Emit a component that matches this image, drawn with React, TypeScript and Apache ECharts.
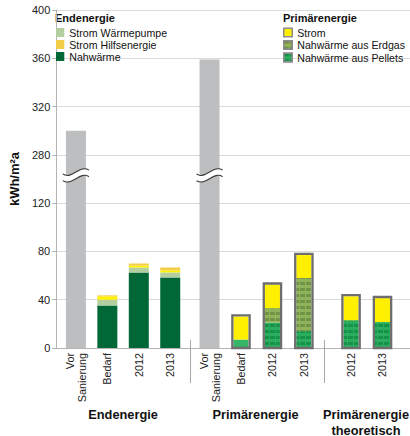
import React, { useEffect, useRef } from 'react';
import * as echarts from 'echarts';

// ---------- data ----------
const categories = ['Vor\nSanierung', 'Bedarf', '2012', '2013', 'Vor\nSanierung', 'Bedarf', '2012', '2013', '2012', '2013'];
const groupTitles = ['Endenergie', 'Primärenergie', 'Primärenergie\ntheoretisch'];
const endLegend = ['Strom Wärmepumpe', 'Strom Hilfsenergie', 'Nahwärme'];
const primLegend = ['Strom', 'Nahwärme aus Erdgas', 'Nahwärme aus Pellets'];

// kWh/m²a (real values)
const vorSanierung = [300, null, null, null, 359, null, null, null, null, null];
const endNahwaerme = [null, 35.2, 62.5, 58.5, null, null, null, null, null, null];
const endStromWP = [null, 4.8, 4.2, 4.1, null, null, null, null, null, null];
const endStromGelb = [null, 2.8, 1.6, 1.7, null, null, null, null, null, null];
const endStromHilfs = [null, 0.8, 1.7, 2.4, null, null, null, null, null, null];
const primPellets = [null, null, null, null, null, 7, 21, 14, 23, 21.5];
const primErdgas = [null, null, null, null, null, 0, 12, 44, 0, 0];
const primStrom = [null, null, null, null, null, 19, 19.5, 19, 19.8, 19.8];

// ---------- layout (slot grid of the category axis) ----------
const SLOT_COUNT = 45;
const slotOf = [2, 6, 10, 14, 19, 23, 27, 31, 37, 41];
const separatorSlots = [17, 34];
const groupCenters = [8.0, 24.85, 38.9];
const breakCats = [0, 4];
const BREAK_MARK_AXIS = 143;

const FONT = '"Liberation Sans", Arial, Helvetica, sans-serif';

// broken axis: real 140..260 is cut out
const toAxis = (v: number | null) => (v == null ? null : v > 200 ? v - 120 : v);
const axisLabel = (v: number) => String(v > 140 ? v + 120 : v);

const expand = (arr: any[]) => {
  const out: any[] = new Array(SLOT_COUNT).fill(null);
  arr.forEach((v, i) => { out[slotOf[i]] = v; });
  return out;
};
const slotLabels = expand(categories).map((c) => (c == null ? '' : c));

const primTotals: [number, number][] = [];
primPellets.forEach((p, i) => {
  if (p != null) primTotals.push([slotOf[i], (p || 0) + (primErdgas[i] || 0) + (primStrom[i] || 0)]);
});

const decal = (color: string) => ({
  symbol: 'rect',
  symbolSize: 1,
  dashArrayX: [5, 1],
  dashArrayY: [2.5, 3],
  rotation: 0,
  color,
});

export default function App() {
  const ref = useRef<HTMLDivElement>(null);
  useEffect(() => {
    if (!ref.current) return;
    const chart = echarts.init(ref.current, null, { renderer: 'svg' });

    const renderDecor = (params: any, api: any) => {
      const origin = api.coord([0, 0]);
      const y0 = origin[1];
      const slotW = api.size([1, 0])[0];
      const xAtSlot = (s: number) => origin[0] + s * slotW;
      const children: any[] = [];
      // axis break marks on the tall bars
      breakCats.forEach((ci) => {
        const p = api.coord([slotOf[ci], BREAK_MARK_AXIS]);
        const cx = p[0];
        const cy = p[1];
        const curve = (dy: number) => ({
          x1: cx - 13, y1: cy + 2 + dy,
          cpx1: cx - 4, cpy1: cy + 8 + dy,
          cpx2: cx + 4, cpy2: cy - 8 + dy,
          x2: cx + 13, y2: cy - 2 + dy,
        });
        children.push({ type: 'bezierCurve', shape: curve(0), style: { stroke: '#fff', lineWidth: 6, fill: null } });
        children.push({ type: 'bezierCurve', shape: curve(-3.3), style: { stroke: '#3a3a3a', lineWidth: 1.1, fill: null } });
        children.push({ type: 'bezierCurve', shape: curve(3.3), style: { stroke: '#3a3a3a', lineWidth: 1.1, fill: null } });
      });
      // group separators
      separatorSlots.forEach((s) => {
        const x = Math.round(xAtSlot(s) - slotW / 2) + 0.5;
        children.push({ type: 'line', shape: { x1: x, y1: y0 - 8, x2: x, y2: y0 + 35 }, style: { stroke: '#a8a8a8', lineWidth: 1 } });
      });
      // group titles
      groupTitles.forEach((t, i) => {
        children.push({
          type: 'text',
          x: xAtSlot(groupCenters[i]),
          y: y0 + 58,
          style: {
            text: t, fill: '#111', fontSize: 12.8, fontWeight: 'bold', fontFamily: FONT,
            align: 'center', verticalAlign: 'top', lineHeight: 16,
          },
        });
      });
      return { type: 'group', children };
    };

    // outline frame around each primary-energy stack
    const renderOutline = (params: any, api: any) => {
      const slot = api.value(0);
      const total = api.value(1);
      const top = api.coord([slot, total]);
      const base = api.coord([slot, 0]);
      const lw = 2.3;
      const w = 15 + lw;
      return {
        type: 'rect',
        shape: { x: top[0] - w / 2, y: top[1] - lw / 2, width: w, height: base[1] - top[1] + lw / 2 },
        style: { fill: 'none', stroke: '#6e6e6e', lineWidth: lw },
      };
    };

    const endStack = (name: string, data: any[], color: string) => ({
      name, type: 'bar', stack: 'e', xAxisIndex: 0, barWidth: 20,
      data: expand(data), itemStyle: { color }, emphasis: { disabled: true },
    });

    const option: any = {
      animation: false,
      textStyle: { fontFamily: FONT },
      grid: { left: 50, top: 10, width: 362, height: 338, containLabel: false },
      xAxis: [
        {
          type: 'category', data: slotLabels,
          axisLine: { lineStyle: { color: '#b4b4b4', width: 1 } },
          axisTick: { show: false },
          axisLabel: { interval: 0, rotate: 90, fontSize: 10.8, color: '#222', margin: 5, lineHeight: 12, fontFamily: FONT },
          splitLine: { show: false },
        },
        { type: 'category', data: slotLabels, show: false },
      ],
      yAxis: {
        type: 'value', min: 0, max: 280, interval: 40,
        name: 'kWh/m²a', nameLocation: 'middle', nameGap: 30,
        nameTextStyle: { fontSize: 13, fontWeight: 'bold', color: '#111', fontFamily: FONT },
        axisLine: { show: true, lineStyle: { color: '#b4b4b4' } },
        axisTick: { show: true, length: 4, lineStyle: { color: '#b4b4b4' } },
        axisLabel: { formatter: axisLabel, fontSize: 11, color: '#222', margin: 6, fontFamily: FONT },
        splitLine: { lineStyle: { color: '#dadada', width: 1 } },
      },
      legend: [
        {
          data: endLegend, orient: 'vertical', left: 56, top: 27, padding: 0,
          itemWidth: 8.3, itemHeight: 9, itemGap: 1, icon: 'rect', selectedMode: false,
          textStyle: { fontSize: 10.6, color: '#111', fontFamily: FONT },
        },
        {
          data: primLegend.map((n) => ({ name: n, itemStyle: { borderColor: '#8c8c8c', borderWidth: 1.5 } })),
          orient: 'vertical', left: 283, top: 27, padding: 0,
          itemWidth: 8.5, itemHeight: 8.5, itemGap: 1.5, icon: 'rect', selectedMode: false,
          textStyle: { fontSize: 10.6, color: '#111', fontFamily: FONT },
        },
      ],
      graphic: [
        { type: 'text', left: 55, top: 12, style: { text: 'Endenergie', fill: '#111', fontSize: 11, fontWeight: 'bold', fontFamily: FONT } },
        { type: 'text', left: 283, top: 12, style: { text: 'Primärenergie', fill: '#111', fontSize: 11, fontWeight: 'bold', fontFamily: FONT } },
      ],
      series: [
        endStack('Vor Sanierung', vorSanierung.map(toAxis), '#bdbebf'),
        endStack('Nahwärme', endNahwaerme, '#006837'),
        endStack('Strom Wärmepumpe', endStromWP, '#b3cfa0'),
        endStack('Strom (Endenergie)', endStromGelb, '#fff100'),
        endStack('Strom Hilfsenergie', endStromHilfs, '#f2cd47'),
        {
          name: 'Nahwärme aus Pellets', type: 'bar', stack: 'p', xAxisIndex: 1, barWidth: 15,
          data: expand(primPellets.map((v, i) => (i === 5 ? { value: v, itemStyle: { decal: 'none', color: '#35b566' } } : v))),
          itemStyle: { color: '#2aae5e', decal: decal('rgba(0,110,50,0.45)') },
          emphasis: { disabled: true },
        },
        {
          name: 'Nahwärme aus Erdgas', type: 'bar', stack: 'p', xAxisIndex: 1, barWidth: 15,
          data: expand(primErdgas),
          itemStyle: { color: '#91b35c', decal: decal('rgba(70,110,40,0.45)') },
          emphasis: { disabled: true },
        },
        {
          name: 'Strom', type: 'bar', stack: 'p', xAxisIndex: 1, barWidth: 15,
          data: expand(primStrom),
          itemStyle: { color: '#fff000' },
          emphasis: { disabled: true },
        },
        {
          name: 'Primärenergie Rahmen', type: 'custom', xAxisIndex: 1, yAxisIndex: 0,
          data: primTotals, renderItem: renderOutline, clip: false, silent: true, z: 5,
        },
        {
          name: 'decor', type: 'custom', xAxisIndex: 0, yAxisIndex: 0,
          data: [0], renderItem: renderDecor, clip: false, silent: true, z: 10,
        },
      ],
    };
    chart.setOption(option);
    return () => chart.dispose();
  }, []);
  return <div ref={ref} style={{ position: 'fixed', left: 0, top: 0, width: 410, height: 436, background: '#fff' }} />;
}
